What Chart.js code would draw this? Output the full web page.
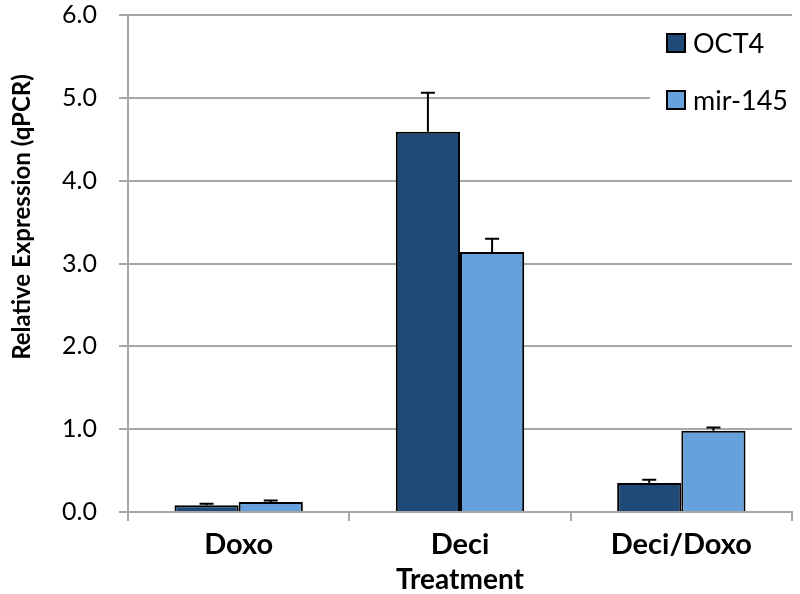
<!DOCTYPE html>
<html>
<head>
<meta charset="utf-8">
<script src="https://cdn.jsdelivr.net/npm/chart.js@4/dist/chart.umd.min.js"></script>
<style>
    html, body { margin: 0; padding: 0; background: #fff; }
    #wrap { width: 800px; height: 594px; }
</style>
</head>
<body>
<div id="wrap"><canvas id="myChart" width="800" height="594"></canvas></div>
<script>
const treatments = ['Doxo', 'Deci', 'Deci/Doxo'];
const oct4 = [0.08, 4.59, 0.35];
const oct4Err = [0.02, 0.47, 0.04];
const mir145 = [0.12, 3.14, 0.98];
const mir145Err = [0.02, 0.16, 0.04];
const yTicks = [0, 1, 2, 3, 4, 5, 6];

const gray = '#a6a6a6';
const font = 'Lato, "Open Sans", sans-serif';

// upward error bars, drawn through the y scale
const errorBars = {
    id: 'errorBars',
    afterDatasetsDraw(chart) {
        const ctx = chart.ctx;
        const y = chart.scales.y;
        ctx.save();
        ctx.strokeStyle = '#000';
        ctx.lineWidth = 2;
        chart.data.datasets.forEach((ds, i) => {
            chart.getDatasetMeta(i).data.forEach((bar, j) => {
                const top = y.getPixelForValue(ds.data[j] + ds.errors[j]);
                ctx.beginPath();
                ctx.moveTo(bar.x, bar.y);
                ctx.lineTo(bar.x, top);
                ctx.moveTo(bar.x - 7, top);
                ctx.lineTo(bar.x + 7, top);
                ctx.stroke();
            });
        });
        ctx.restore();
    }
};

// legend sitting inside the plot, plus rotated y title
const extras = {
    id: 'extras',
    afterDraw(chart) {
        const ctx = chart.ctx;
        ctx.save();
        ctx.fillStyle = '#fff';
        ctx.fillRect(650, 22, 145, 95);
        ctx.font = '27px ' + font;
        ctx.textBaseline = 'middle';
        chart.data.datasets.forEach((ds, i) => {
            const cy = 43 + i * 57;
            ctx.fillStyle = ds.backgroundColor;
            ctx.fillRect(667, cy - 9, 18, 18);
            ctx.strokeStyle = '#000';
            ctx.lineWidth = 2;
            ctx.strokeRect(667, cy - 9, 18, 18);
            ctx.fillStyle = '#000';
            ctx.fillText(ds.label, 693, cy + 1);
        });
        ctx.translate(22, 217);
        ctx.rotate(-Math.PI / 2);
        ctx.textAlign = 'center';
        ctx.font = 'bold 24px ' + font;
        ctx.fillText('Relative Expression (qPCR)', 0, 0);
        ctx.restore();
    }
};

const chart = new Chart(document.getElementById('myChart'), {
    type: 'bar',
    data: {
        labels: treatments,
        datasets: [{
            label: 'OCT4',
            data: oct4,
            errors: oct4Err,
            backgroundColor: '#1f4a78',
            borderColor: '#000',
            borderWidth: 2
        }, {
            label: 'mir-145',
            data: mir145,
            errors: mir145Err,
            backgroundColor: '#66a1dc',
            borderColor: '#000',
            borderWidth: 2
        }]
    },
    options: {
        responsive: false,
        animation: false,
        layout: { padding: { top: 15, right: 8, left: 0, bottom: 0 } },
        datasets: { bar: { categoryPercentage: 0.58, barPercentage: 1.0 } },
        plugins: { legend: { display: false }, tooltip: { enabled: false } },
        scales: {
            x: {
                grid: { drawOnChartArea: false, color: gray, lineWidth: 2, tickLength: 9 },
                border: { color: gray, width: 2 },
                ticks: { color: '#000', font: { family: font, size: 29, weight: 'bold' }, padding: 6 },
                title: { display: true, text: 'Treatment', color: '#000',
                         font: { family: font, size: 28, weight: 'bold', lineHeight: 1.0 },
                         padding: { top: 2, bottom: 0 } },
                afterFit(scale) {
                    scale.height = 82;
                    scale.paddingLeft = 0;
                    scale.paddingRight = 0;
                }
            },
            y: {
                min: 0,
                max: 6,
                afterBuildTicks(scale) { scale.ticks = yTicks.map(v => ({ value: v })); },
                grid: { color: gray, lineWidth: 2, tickLength: 9 },
                border: { color: gray, width: 2 },
                ticks: { color: '#000', font: { family: font, size: 25 }, padding: 22,
                         callback: v => v.toFixed(1) },
                afterFit(scale) {
                    scale.width = 128;
                    scale.paddingTop = 0;
                    scale.paddingBottom = 0;
                }
            }
        }
    },
    plugins: [errorBars, extras]
});
</script>
</body>
</html>
